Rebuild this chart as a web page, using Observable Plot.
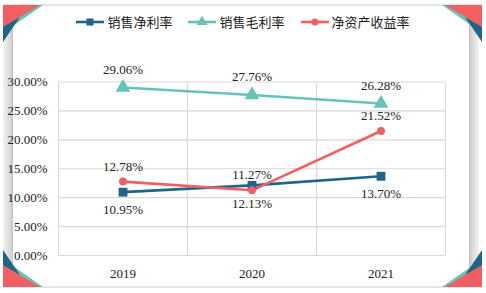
<!DOCTYPE html>
<html>
<head>
<meta charset="utf-8">
<script src="https://cdn.jsdelivr.net/npm/d3@7"></script>
<script src="https://cdn.jsdelivr.net/npm/@observablehq/plot@0.6"></script>
<style>
  html, body { margin: 0; padding: 0; background: #fff; }
  #wrap { position: relative; width: 486px; height: 293px; overflow: hidden; background: #fff; }
  #deco, #chart, #legend { position: absolute; left: 0; top: 0; }
  #legend { width: 486px; top: 12px; display: flex; justify-content: center; gap: 16px;
            font-family: "Noto Sans CJK SC", sans-serif; font-size: 13px; color: #222; }
  .item { display: flex; align-items: center; gap: 3px; }
  #chart svg text { font-family: "Liberation Serif", "Times New Roman", serif !important; }
</style>
</head>
<body>
<div id="wrap">
  <svg id="deco" width="486" height="293"></svg>
  <div id="chart"></div>
  <div id="legend"></div>
</div>
<script>
// ---- data ----
const years = [2019, 2020, 2021];
const seriesNames = ["销售净利率", "销售毛利率", "净资产收益率"];
const netMargin = [0.1095, 0.1213, 0.1370];
const grossMargin = [0.2906, 0.2776, 0.2628];
const roe = [0.1278, 0.1127, 0.2152];
const yTicks = [0, 0.05, 0.10, 0.15, 0.20, 0.25, 0.30];

const colors = ["#1f6587", "#65c3b8", "#f25f63"];
const symbols = ["square", "triangle", "circle"];
const radii = [5, 5.5, 4];
const labelDy = [18, -18, -15];
const valuesBySeries = [netMargin, grossMargin, roe];
const serif = "'Liberation Serif', 'Times New Roman', serif";

const rows = [];
seriesNames.forEach((s, i) => {
  years.forEach((y, j) => rows.push({series: s, idx: i, year: y, value: valuesBySeries[i][j]}));
});

// ---- decorations (frame) ----
const deco = d3.select("#deco");
const defs = deco.append("defs");
const gl = defs.append("linearGradient").attr("id", "gl").attr("x1", 0).attr("x2", 1);
gl.append("stop").attr("offset", 0).attr("stop-color", "#f2f2f2");
gl.append("stop").attr("offset", 0.8).attr("stop-color", "#d6d6d6");
gl.append("stop").attr("offset", 1).attr("stop-color", "#bdbdbd");
const gr = defs.append("linearGradient").attr("id", "gr").attr("x1", 0).attr("x2", 1);
gr.append("stop").attr("offset", 0).attr("stop-color", "#bdbdbd");
gr.append("stop").attr("offset", 0.25).attr("stop-color", "#d6d6d6");
gr.append("stop").attr("offset", 1).attr("stop-color", "#f2f2f2");
deco.append("rect").attr("x", 3).attr("y", 5).attr("width", 10).attr("height", 282).attr("fill", "url(#gl)");
deco.append("rect").attr("x", 469).attr("y", 5).attr("width", 10).attr("height", 282).attr("fill", "url(#gr)");
deco.append("rect").attr("x", 3).attr("y", 4).attr("width", 479).attr("height", 2).attr("fill", "#e6e6e6");
deco.append("rect").attr("x", 3).attr("y", 286).attr("width", 479).attr("height", 2).attr("fill", "#e6e6e6");
const corner = [
  {c: "#65c3b8", p: [[43,5],[3,33],[3,5]]},
  {c: "#1f6587", p: [[20,17],[3,42],[3,26]]},
  {c: "#f25f63", p: [[40,5],[3,27],[3,5]]}
];
[[false,false],[true,false],[false,true],[true,true]].forEach(([mx, my]) => {
  corner.forEach(({c, p}) => {
    const pts = p.map(([x, y]) => [mx ? 485 - x : x, my ? 292 - y : y]);
    deco.append("polygon").attr("points", pts.map(d => d.join(",")).join(" ")).attr("fill", c);
  });
});

// ---- chart ----
const fmt = d3.format(".2%");
const chart = Plot.plot({
  width: 486,
  height: 293,
  marginTop: 81.5,
  marginBottom: 38,
  marginLeft: 58,
  marginRight: 41,
  style: {background: "transparent", fontFamily: serif, fontSize: "13px", color: "#222"},
  x: {domain: [2018.5, 2021.5], axis: null},
  y: {domain: [0, 0.30], axis: null},
  marks: [
    Plot.ruleY(yTicks, {stroke: "#d9d9d9", strokeWidth: 1.2}),
    Plot.ruleX([2018.5, 2019.5, 2020.5, 2021.5], {stroke: "#d9d9d9", strokeWidth: 1.2}),
    Plot.axisY({ticks: yTicks, tickFormat: fmt, tickSize: 0, tickPadding: 11, label: null, fontSize: 13, fontFamily: serif, fill: "#222"}),
    Plot.axisX({ticks: years, tickFormat: d => String(d), tickSize: 0, tickPadding: 13, label: null, fontSize: 13, fontFamily: serif, fill: "#222"}),
    Plot.line(rows, {x: "year", y: "value", z: "series", stroke: d => colors[d.idx], strokeWidth: 2.6}),
    ...seriesNames.map((s, i) => Plot.dot(rows.filter(d => d.idx === i), {
      x: "year", y: "value", symbol: () => symbols[i], r: radii[i], fill: colors[i], stroke: "none"
    })),
    ...seriesNames.map((s, i) => Plot.text(rows.filter(d => d.idx === i), {
      x: "year", y: "value", text: d => fmt(d.value), dy: labelDy[i], fill: "#222", fontSize: 13, fontFamily: serif
    }))
  ]
});
document.getElementById("chart").appendChild(chart);

// ---- legend ----
const legend = d3.select("#legend");
seriesNames.forEach((s, i) => {
  const it = legend.append("div").attr("class", "item");
  const sv = it.append("svg").attr("width", 28).attr("height", 12);
  sv.append("line").attr("x1", 0).attr("x2", 28).attr("y1", 6).attr("y2", 6).attr("stroke", colors[i]).attr("stroke-width", 2.6);
  sv.append("path").attr("transform", "translate(14,6)")
    .attr("d", d3.symbol(i === 0 ? d3.symbolSquare : i === 1 ? d3.symbolTriangle : d3.symbolCircle, i === 2 ? 40 : 50)())
    .attr("fill", colors[i]);
  it.append("span").text(s);
});
</script>
</body>
</html>
